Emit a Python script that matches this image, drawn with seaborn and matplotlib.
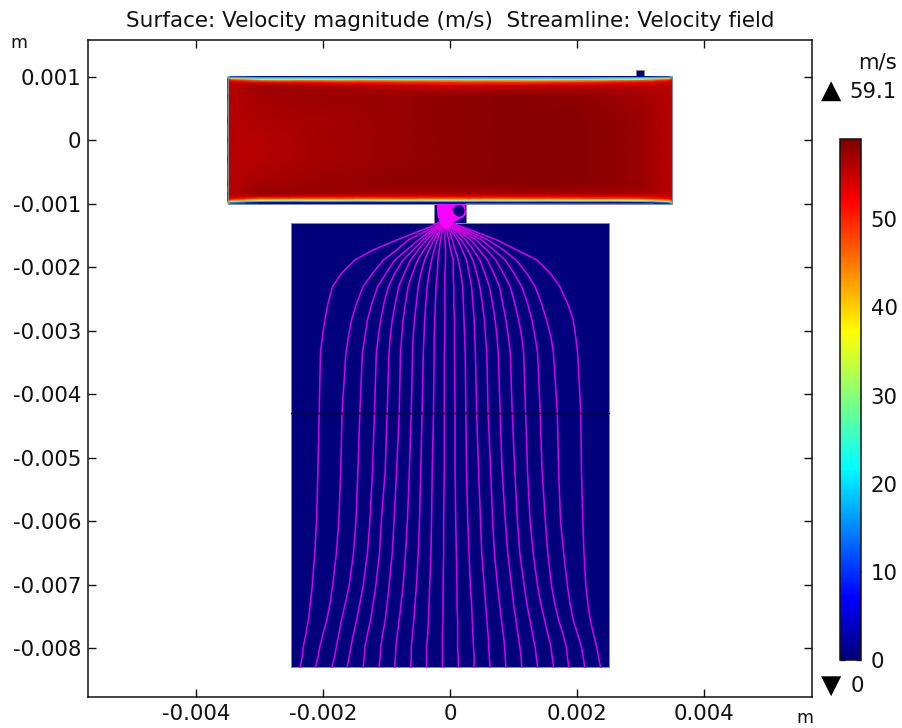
import numpy as np
import pandas as pd
import matplotlib
matplotlib.use("Agg")
import matplotlib.pyplot as plt
from matplotlib.colors import LinearSegmentedColormap
from matplotlib.patches import Rectangle
import seaborn as sns

# channel velocity magnitude (m/s), x and y in mm
CHANNEL_X = [-3.5, -3.45, -3.0, -2.0, -1.0, 0.0, 1.0, 2.0, 3.0, 3.45, 3.5]
CHANNEL_Y = [1.0, 0.985, 0.97, 0.95, 0.93, 0.90, 0.85, 0.7, 0.3, 0.0, -0.3, -0.7, -0.85, -0.90, -0.93, -0.95, -0.97, -0.985, -1.0]
CHANNEL_V = [
    [20, 10, 0, 0, 0, 0, 0, 0, 0, 10, 20],
    [35, 18, 8, 8, 8, 7, 7, 7, 8, 18, 35],
    [48, 35, 20, 20, 19, 18, 18, 18, 22, 35, 48],
    [53, 47, 36, 35, 34, 33, 32, 33, 38, 47, 52],
    [55, 52, 47, 46, 45, 44, 43, 44, 48, 52, 54],
    [55, 55, 54, 52, 51, 50, 50, 51, 53, 55, 54],
    [55.5, 56, 57.5, 57, 56, 55, 55.5, 56, 56, 56, 54.5],
    [55.5, 56, 57, 57.5, 57.5, 58, 58.5, 58, 57, 56, 55],
    [55.5, 56, 56.5, 57, 57.5, 58, 58.5, 58.5, 57.5, 56, 55.5],
    [55.5, 56, 56, 57, 57.5, 58, 58.5, 58.5, 57.5, 56, 55.5],
    [55.5, 56, 56, 57, 57.5, 58, 58.5, 58.5, 57.5, 56, 55.5],
    [55.5, 56, 57, 57.5, 58, 58, 58.5, 58.5, 57.5, 56, 55],
    [55.5, 56, 58, 57.5, 57, 57, 57, 57, 57, 56, 54.5],
    [55, 55, 54, 52, 52, 52, 52, 52, 53, 54, 54],
    [55, 52, 47, 46, 46, 46, 46, 47, 48, 52, 54],
    [53, 47, 36, 35, 35, 35, 35, 36, 38, 47, 52],
    [48, 35, 20, 20, 20, 20, 20, 20, 22, 35, 48],
    [35, 18, 8, 8, 8, 8, 8, 8, 8, 18, 35],
    [20, 10, 0, 0, 0, 0, 0, 0, 0, 10, 20],
]

# streamlines: x (mm) of each line at the shared y levels (mm)
STREAM_Y = [-8.30, -8.15, -7.98, -7.78, -7.56, -7.30, -7.03, -6.51, -5.98, -5.20, -4.30, -3.36, -3.10, -2.83, -2.57,
            -2.31, -2.10, -1.89, -1.73, -1.575, -1.47, -1.37, -1.28]
STREAM_X = [
    [-2.36, -2.33, -2.31, -2.27, -2.23, -2.20, -2.17, -2.13, -2.10, -2.08, -2.06, -2.04, -2.01, -1.97, -1.92, -1.85, -1.71, -1.50, -1.21, -0.84, -0.58, -0.32, -0.14],
    [-2.12, -2.08, -2.05, -2.00, -1.94, -1.89, -1.85, -1.79, -1.75, -1.72, -1.70, -1.64, -1.60, -1.55, -1.47, -1.37, -1.22, -1.05, -0.84, -0.66, -0.45, -0.25, -0.12],
    [-1.86, -1.82, -1.79, -1.75, -1.71, -1.65, -1.59, -1.52, -1.48, -1.45, -1.42, -1.38, -1.34, -1.30, -1.23, -1.14, -1.01, -0.87, -0.68, -0.50, -0.36, -0.22, -0.12],
    [-1.62, -1.59, -1.56, -1.52, -1.47, -1.42, -1.37, -1.30, -1.26, -1.22, -1.19, -1.16, -1.13, -1.09, -1.04, -0.97, -0.87, -0.74, -0.58, -0.43, -0.31, -0.20, -0.11],
    [-1.37, -1.35, -1.34, -1.30, -1.25, -1.21, -1.17, -1.11, -1.08, -1.02, -0.99, -0.96, -0.94, -0.91, -0.86, -0.81, -0.72, -0.62, -0.50, -0.37, -0.27, -0.18, -0.11],
    [-1.12, -1.10, -1.09, -1.06, -1.02, -0.99, -0.96, -0.91, -0.88, -0.84, -0.80, -0.78, -0.76, -0.74, -0.70, -0.66, -0.59, -0.51, -0.41, -0.30, -0.23, -0.16, -0.10],
    [-0.87, -0.86, -0.85, -0.83, -0.80, -0.77, -0.74, -0.70, -0.67, -0.64, -0.61, -0.59, -0.58, -0.56, -0.53, -0.50, -0.46, -0.40, -0.33, -0.25, -0.19, -0.14, -0.09],
    [-0.62, -0.61, -0.61, -0.59, -0.57, -0.55, -0.53, -0.50, -0.48, -0.46, -0.44, -0.42, -0.41, -0.40, -0.38, -0.36, -0.33, -0.29, -0.25, -0.20, -0.17, -0.13, -0.09],
    [-0.37, -0.37, -0.37, -0.35, -0.34, -0.33, -0.32, -0.30, -0.29, -0.28, -0.26, -0.25, -0.25, -0.24, -0.23, -0.22, -0.20, -0.19, -0.17, -0.15, -0.13, -0.11, -0.08],
    [-0.12, -0.12, -0.12, -0.12, -0.11, -0.11, -0.11, -0.10, -0.10, -0.09, -0.09, -0.09, -0.08, -0.08, -0.08, -0.08, -0.08, -0.07, -0.07, -0.08, -0.08, -0.08, -0.08],
    [0.13, 0.13, 0.12, 0.12, 0.12, 0.11, 0.11, 0.10, 0.09, 0.08, 0.08, 0.07, 0.07, 0.07, 0.06, 0.06, 0.05, 0.05, 0.01, -0.02, -0.04, -0.06, -0.07],
    [0.38, 0.38, 0.37, 0.36, 0.35, 0.34, 0.32, 0.30, 0.28, 0.26, 0.25, 0.24, 0.23, 0.22, 0.21, 0.20, 0.17, 0.13, 0.08, 0.04, 0.00, -0.04, -0.07],
    [0.63, 0.62, 0.61, 0.60, 0.58, 0.56, 0.54, 0.50, 0.48, 0.45, 0.42, 0.40, 0.39, 0.38, 0.36, 0.34, 0.30, 0.26, 0.19, 0.12, 0.05, -0.02, -0.06],
    [0.88, 0.87, 0.86, 0.84, 0.81, 0.78, 0.75, 0.70, 0.67, 0.64, 0.60, 0.58, 0.56, 0.54, 0.51, 0.47, 0.42, 0.36, 0.28, 0.18, 0.09, 0.01, -0.06],
    [1.13, 1.12, 1.10, 1.07, 1.04, 1.00, 0.97, 0.91, 0.87, 0.82, 0.79, 0.76, 0.74, 0.71, 0.67, 0.62, 0.55, 0.47, 0.37, 0.25, 0.14, 0.03, -0.05],
    [1.38, 1.36, 1.34, 1.30, 1.26, 1.21, 1.17, 1.10, 1.06, 1.02, 0.98, 0.95, 0.92, 0.88, 0.83, 0.78, 0.69, 0.59, 0.46, 0.33, 0.19, 0.05, -0.05],
    [1.63, 1.61, 1.59, 1.54, 1.49, 1.43, 1.38, 1.31, 1.26, 1.22, 1.19, 1.16, 1.13, 1.08, 1.02, 0.95, 0.84, 0.72, 0.58, 0.41, 0.24, 0.07, -0.04],
    [1.87, 1.85, 1.83, 1.78, 1.71, 1.65, 1.60, 1.54, 1.50, 1.45, 1.42, 1.38, 1.34, 1.29, 1.22, 1.13, 1.01, 0.87, 0.69, 0.50, 0.31, 0.11, -0.04],
    [2.12, 2.10, 2.07, 2.01, 1.94, 1.89, 1.85, 1.79, 1.74, 1.71, 1.69, 1.63, 1.59, 1.52, 1.44, 1.34, 1.21, 1.04, 0.84, 0.60, 0.38, 0.15, -0.03],
    [2.37, 2.34, 2.31, 2.26, 2.21, 2.17, 2.14, 2.11, 2.09, 2.07, 2.06, 2.01, 1.98, 1.94, 1.85, 1.73, 1.58, 1.37, 1.05, 0.74, 0.47, 0.20, -0.03],
]

# recirculation in the neck (mm)
BLOB_X = [-0.21, 0.24, 0.25, 0.20, 0.05, -0.02, -0.06, -0.12, -0.16, -0.20]
BLOB_Y = [-1.01, -1.01, -1.18, -1.22, -1.30, -1.37, -1.40, -1.37, -1.30, -1.18]
HOLE_X = [0.03, 0.10, 0.19, 0.23, 0.21, 0.14, 0.07]
HOLE_Y = [-1.09, -1.03, -1.03, -1.10, -1.18, -1.21, -1.17]
WALL_STREAM_X = [0.25, 3.2]
WALL_STREAM_Y = [-0.99, -0.99]

X_TICKS = [-0.004, -0.002, 0, 0.002, 0.004]
Y_TICKS = [0.001, 0, -0.001, -0.002, -0.003, -0.004, -0.005, -0.006, -0.007, -0.008]
CBAR_TICKS = [0, 10, 20, 30, 40, 50]
V_MAX = 59.1

W, H = 902, 728
NAVY = "#00007c"
EDGE = "#8a8a8a"
TEXT = "#111111"
FS = 15.3

sns.set_theme(style="ticks")
plt.rcParams["font.family"] = "DejaVu Sans"

rainbow = LinearSegmentedColormap.from_list("comsol_rainbow", [
    (0.0, (0, 0, 0.47)), (0.12, (0, 0, 1)), (0.37, (0, 1, 1)),
    (0.63, (1, 1, 0)), (0.88, (1, 0, 0)), (1.0, (0.5, 0, 0)),
])

fig = plt.figure(figsize=(W / 100, H / 100), dpi=100)
ax = fig.add_axes([88 / W, 1 - 697 / H, 724 / W, 657 / H])

# channel surface
xx, yy = np.meshgrid(np.array(CHANNEL_X) / 1000, np.array(CHANNEL_Y) / 1000)
mesh = ax.pcolormesh(xx, yy, np.array(CHANNEL_V, dtype=float), cmap=rainbow, vmin=0, vmax=V_MAX,
                     shading="gouraud", zorder=2)

# near-stagnant regions
for x0, y0, w, h in [(-0.0025, -0.0083, 0.005, 0.007), (-0.00025, -0.0013, 0.0005, 0.0003), (0.00293, 0.001, 0.00012, 0.0001)]:
    ax.add_patch(Rectangle((x0, y0), w, h, facecolor=NAVY, edgecolor=EDGE, linewidth=0.7, zorder=1.5))
ax.add_patch(Rectangle((-0.0035, -0.001), 0.007, 0.002, facecolor="none", edgecolor=EDGE, linewidth=0.7, zorder=3))

# streamlines
stream = pd.DataFrame({
    "x": np.array(STREAM_X).ravel() / 1000,
    "y": np.tile(STREAM_Y, len(STREAM_X)) / 1000,
    "line": np.repeat(np.arange(len(STREAM_X)), len(STREAM_Y)),
})
sns.lineplot(data=stream, x="x", y="y", units="line", estimator=None, sort=False,
             color="#d400e4", linewidth=1.15, ax=ax, zorder=4, legend=False)
ax.plot([-0.0025, 0.0025], [-0.0043, -0.0043], color="black", linewidth=1.0, zorder=4.5)

ax.fill(np.array(BLOB_X) / 1000, np.array(BLOB_Y) / 1000, color="#ff00ff", linewidth=0, zorder=5)
ax.fill(np.array(HOLE_X) / 1000, np.array(HOLE_Y) / 1000, color=NAVY, linewidth=0, zorder=6)
ax.plot(np.array(WALL_STREAM_X) / 1000, np.array(WALL_STREAM_Y) / 1000, color="#ff00ff", linewidth=0.7, alpha=0.7, zorder=4)

ax.set_xlim(-0.0057, 0.0057)
ax.set_ylim(-0.00877, 0.001575)
ax.set_xlabel("")
ax.set_ylabel("")
ax.set_xticks(X_TICKS, ["-0.004", "-0.002", "0", "0.002", "0.004"])
ax.set_yticks(Y_TICKS, ["0.001", "0", "-0.001", "-0.002", "-0.003", "-0.004", "-0.005", "-0.006", "-0.007", "-0.008"])
ax.tick_params(direction="in", length=5.5, width=1, top=True, right=True, labelsize=FS, colors=TEXT, pad=5)
for s in ax.spines.values():
    s.set_linewidth(1.1)
    s.set_color(TEXT)
    s.set_visible(True)

fig.text(450 / W, 1 - 21 / H, "Surface: Velocity magnitude (m/s)  Streamline: Velocity field",
         ha="center", va="center", fontsize=15.5, color=TEXT)
fig.text(19 / W, 1 - 43 / H, "m", ha="center", va="center", fontsize=12.5, color=TEXT)
fig.text(805 / W, 1 - 718 / H, "m", ha="center", va="center", fontsize=12.5, color=TEXT)

# colour bar
cax = fig.add_axes([840 / W, 1 - 660 / H, 21 / W, 521 / H])
cb = fig.colorbar(mesh, cax=cax)
cb.set_ticks(CBAR_TICKS)
cb.ax.tick_params(direction="in", length=3.5, width=1, left=True, right=True, labelsize=FS, colors=TEXT, pad=7)
cb.outline.set_linewidth(1.1)
cb.outline.set_edgecolor(TEXT)

fig.text(897 / W, 1 - 62 / H, "m/s", ha="right", va="center", fontsize=FS, color=TEXT)
fig.text(831 / W, 1 - 91 / H, "\u25b2", ha="center", va="center", fontsize=19, color="black")
fig.text(897 / W, 1 - 92 / H, "59.1", ha="right", va="center", fontsize=FS, color=TEXT)
fig.text(831 / W, 1 - 686 / H, "\u25bc", ha="center", va="center", fontsize=19, color="black")
fig.text(851 / W, 1 - 686 / H, "0", ha="left", va="center", fontsize=FS, color=TEXT)

fig.savefig("out.png", dpi=100)
